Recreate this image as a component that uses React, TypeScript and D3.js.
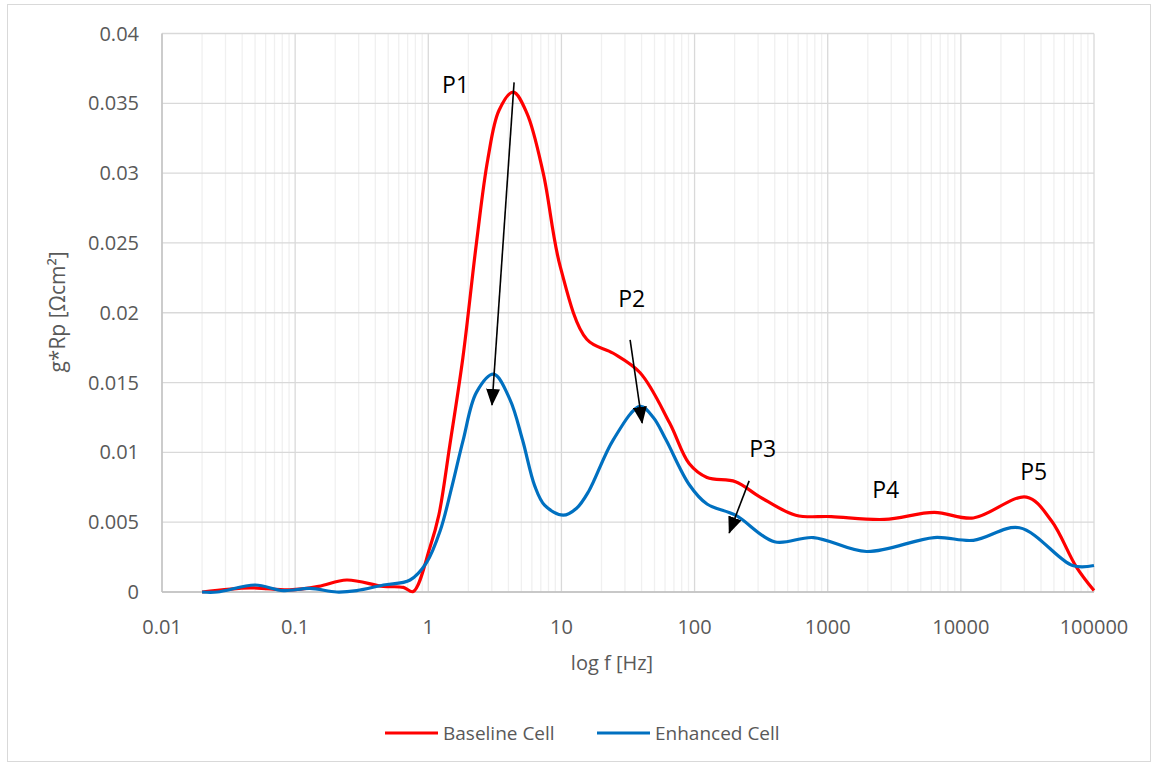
import React from "react";
import * as d3 from "d3";

// frequency [Hz] and g*Rp [Ohm cm2]
const baselineFreq = [0.02, 0.046, 0.091, 0.15, 0.244, 0.46, 0.65, 0.77, 1.03, 1.2, 1.45, 1.82, 2.3, 2.8, 3.4, 4.34, 5.5, 7.3, 9.8, 15.5, 24.5, 39, 65, 91, 124, 203, 311, 575, 1064, 2670, 6310, 12400, 31100, 47900, 73600, 100000];
const baselineVal = [0, 0.0003, 0.00015, 0.0004, 0.00086, 0.0004, 0.00033, 0.00003, 0.0032, 0.0055, 0.0105, 0.0168, 0.025, 0.031, 0.0345, 0.0358, 0.0343, 0.03, 0.0233, 0.0181, 0.0171, 0.0157, 0.0121, 0.0092, 0.0082, 0.0079, 0.0068, 0.0055, 0.0054, 0.0052, 0.0057, 0.0053, 0.0068, 0.0051, 0.0018, 0.0001];

const enhancedFreq = [0.02, 0.026, 0.05, 0.0815, 0.129, 0.205, 0.29, 0.46, 0.73, 0.97, 1.23, 1.5, 1.83, 2.3, 3.1, 4.1, 5.1, 6.3, 7.5, 10.3, 13, 16, 24.5, 39, 49, 61, 91, 124, 203, 398, 781, 1960, 6310, 12400, 27500, 69000, 100000];
const enhancedVal = [0, 0, 0.0005, 0.0001, 0.00026, 0, 0.0001, 0.0005, 0.00086, 0.0021, 0.0044, 0.0075, 0.0109, 0.0143, 0.0156, 0.0138, 0.0109, 0.0076, 0.0062, 0.0055, 0.006, 0.0072, 0.0109, 0.0133, 0.0125, 0.0109, 0.0077, 0.0063, 0.0055, 0.0036, 0.0039, 0.0029, 0.0039, 0.0037, 0.0046, 0.0019, 0.0019];

const yTicks = [0, 0.005, 0.01, 0.015, 0.02, 0.025, 0.03, 0.035, 0.04];
const xTicks = [0.01, 0.1, 1, 10, 100, 1000, 10000, 100000];
const xTickLabels = ["0.01", "0.1", "1", "10", "100", "1000", "10000", "100000"];

// peak labels and arrows, in data units
const peakNames = ["P1", "P2", "P3", "P4", "P5"];
const peakFreq = [1.27, 26.7, 257, 2160, 27900];
const peakVal = [0.03577, 0.02043, 0.00968, 0.00674, 0.00803];
const arrowFrom = [[4.41, 0.0365], [32.8, 0.01806], [257, 0.00796]];
const arrowTo = [[3.01, 0.0134], [40.4, 0.01211], [182, 0.00423]];

const W = 1158;
const H = 767;
const font = "'Open Sans', sans-serif";
const grey = "#595959";

const App = () => {
  const x = d3.scaleLog().domain([0.01, 100000]).range([162, 1094]);
  const y = d3.scaleLinear().domain([0, 0.04]).range([592, 33.5]);

  const minor: number[] = [];
  for (let d = 0; d < xTicks.length - 1; d++) {
    for (let k = 2; k <= 9; k++) minor.push(xTicks[d] * k);
  }

  const line = d3
    .line<[number, number]>()
    .x((d) => x(d[0]))
    .y((d) => y(d[1]))
    .curve(d3.curveCatmullRom.alpha(0.5));

  const red = baselineFreq.map((f, i) => [f, baselineVal[i]] as [number, number]);
  const blue = enhancedFreq.map((f, i) => [f, enhancedVal[i]] as [number, number]);

  return (
    <svg width={W} height={H} style={{ position: "absolute", left: 0, top: 0 }}>
      <defs>
        <marker id="head" markerUnits="userSpaceOnUse" markerWidth="17" markerHeight="14" refX="16" refY="7" orient="auto">
          <path d="M0,0 L17,7 L0,14 Z" fill="#000" />
        </marker>
      </defs>
      <rect x={0} y={0} width={W} height={H} fill="#fff" />
      <rect x={7.5} y={4.5} width={1143} height={757} fill="none" stroke="#d9d9d9" />

      {minor.map((m, i) => (
        <line key={"m" + i} x1={x(m)} x2={x(m)} y1={y(0)} y2={y(0.04)} stroke="#f0f0f0" strokeWidth={1.3} />
      ))}
      {xTicks.map((t, i) => (
        <line key={"x" + i} x1={x(t)} x2={x(t)} y1={y(0)} y2={y(0.04)} stroke="#d9d9d9" strokeWidth={1.3} />
      ))}
      {yTicks.map((t, i) => (
        <line key={"y" + i} x1={x(0.01)} x2={x(100000)} y1={y(t)} y2={y(t)} stroke="#d9d9d9" strokeWidth={1.3} />
      ))}
      <line x1={x(0.01)} x2={x(0.01)} y1={y(0)} y2={y(0.04)} stroke="#bfbfbf" strokeWidth={1.3} />
      <line x1={x(0.01)} x2={x(100000)} y1={y(0)} y2={y(0)} stroke="#bfbfbf" strokeWidth={1.3} />

      {yTicks.map((t, i) => (
        <text key={"yl" + i} x={139} y={y(t)} dy="0.35em" textAnchor="end" fontFamily={font} fontSize={20} fill={grey}>
          {String(t)}
        </text>
      ))}
      {xTicks.map((t, i) => (
        <text key={"xl" + i} x={x(t)} y={627} dy="0.35em" textAnchor="middle" fontFamily={font} fontSize={20} fill={grey}>
          {xTickLabels[i]}
        </text>
      ))}
      <text x={612} y={663} dy="0.35em" textAnchor="middle" fontFamily={font} fontSize={20} fill={grey}>
        log f [Hz]
      </text>
      <text transform="translate(58,312) rotate(-90)" dy="0.35em" textAnchor="middle" fontFamily={font} fontSize={21} fill={grey}>
        g*Rp [Ωcm²]
      </text>

      <path d={line(red) || ""} fill="none" stroke="#ff0000" strokeWidth={3.2} strokeLinejoin="round" />
      <path d={line(blue) || ""} fill="none" stroke="#0070c0" strokeWidth={3.2} strokeLinejoin="round" />

      {arrowFrom.map((a, i) => (
        <line key={"a" + i} x1={x(a[0])} y1={y(a[1])} x2={x(arrowTo[i][0])} y2={y(arrowTo[i][1])} stroke="#000" strokeWidth={1.6} markerEnd="url(#head)" />
      ))}
      {peakNames.map((p, i) => (
        <text key={"p" + i} x={x(peakFreq[i])} y={y(peakVal[i])} fontFamily={font} fontSize={23} fill="#000">
          {p}
        </text>
      ))}

      <line x1={385} x2={438} y1={733} y2={733} stroke="#ff0000" strokeWidth={3.2} />
      <text x={443} y={733} dy="0.35em" fontFamily={font} fontSize={19} fill={grey}>
        Baseline Cell
      </text>
      <line x1={597} x2={650} y1={733} y2={733} stroke="#0070c0" strokeWidth={3.2} />
      <text x={655} y={733} dy="0.35em" fontFamily={font} fontSize={19} fill={grey}>
        Enhanced Cell
      </text>
    </svg>
  );
};

export default App;
